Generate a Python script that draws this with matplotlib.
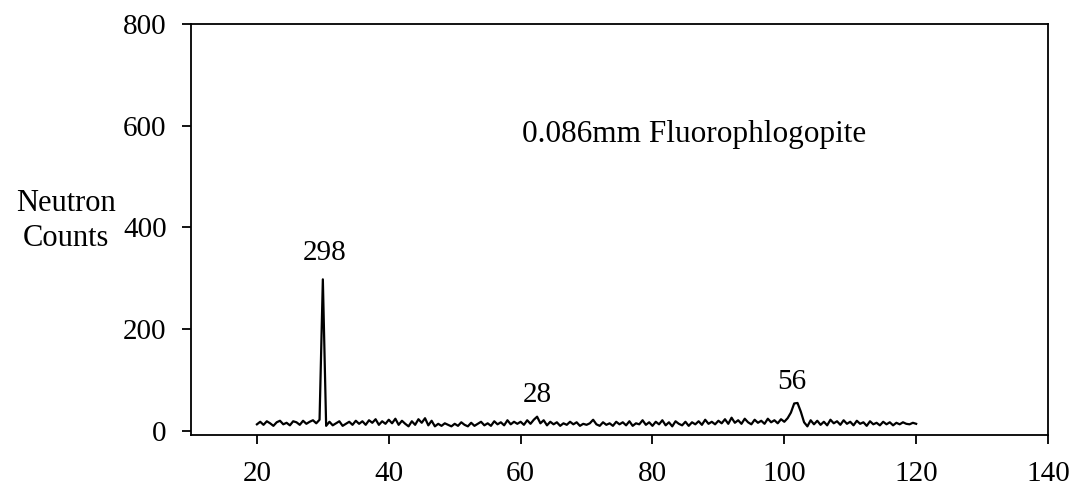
import numpy as np
import matplotlib
matplotlib.use("Agg")
import matplotlib.pyplot as plt

plt.rcParams['font.family'] = ['Liberation Serif', 'DejaVu Serif']

# Scattering angle grid (degrees), 0.5 step from 20 to 120
angle = np.arange(20, 120.01, 0.5)

counts_20_30 = [13, 18, 12, 19, 15, 10, 17, 20, 13, 16, 11, 19, 17, 12, 20, 14, 18, 21, 15, 22]
counts_30_40 = [298, 10, 18, 11, 15, 19, 10, 14, 18, 12, 20, 14, 19, 12, 21, 16, 23, 12, 19, 14]
counts_40_50 = [22, 15, 24, 12, 20, 14, 9, 19, 12, 23, 16, 25, 11, 20, 9, 14, 10, 15, 12, 9]
counts_50_60 = [14, 10, 17, 12, 9, 16, 10, 14, 18, 11, 15, 10, 19, 13, 17, 11, 21, 13, 18, 14]
counts_60_70 = [18, 12, 21, 14, 22, 28, 15, 21, 11, 18, 13, 17, 10, 15, 12, 18, 13, 17, 10, 14]
counts_70_80 = [12, 15, 22, 13, 10, 17, 12, 15, 10, 18, 13, 17, 11, 19, 10, 15, 13, 21, 12, 17]
counts_80_90 = [10, 18, 13, 21, 11, 17, 9, 19, 14, 11, 18, 10, 17, 13, 19, 12, 22, 14, 18, 13]
counts_90_100 = [20, 15, 23, 14, 26, 16, 21, 14, 24, 17, 13, 22, 16, 20, 14, 24, 17, 21, 15, 23]
counts_100_110 = [18, 25, 36, 54, 55, 38, 17, 9, 21, 13, 20, 12, 18, 11, 22, 15, 19, 12, 21, 14]
counts_110_120 = [18, 11, 20, 14, 17, 10, 19, 13, 16, 11, 18, 13, 17, 11, 16, 13, 17, 14, 13, 16, 14]

counts = (counts_20_30 + counts_30_40 + counts_40_50 + counts_50_60 + counts_60_70
          + counts_70_80 + counts_80_90 + counts_90_100 + counts_100_110 + counts_110_120)

peak_labels = ["298", "28", "56"]
peak_label_x = [30.3, 62.5, 101.2]
peak_label_y = [350, 71, 96]

x_ticks = [20, 40, 60, 80, 100, 120, 140]
y_ticks = [0, 200, 400, 600, 800]

FS = 21

fig = plt.figure(figsize=(10.8, 4.94), dpi=100)
ax = fig.add_axes([191/1080, 1 - 435/494, (1048 - 191)/1080, (435 - 24)/494])

ax.plot(angle, counts, color='black', linewidth=1.6)

ax.set_xlim(10, 140)
ax.set_ylim(-8, 800)
ax.set_xticks(x_ticks)
ax.set_yticks(y_ticks)
ax.tick_params(axis='both', direction='out', length=6.5, width=1.3, labelsize=FS, colors='black')
ax.tick_params(axis='x', pad=12)
ax.tick_params(axis='y', pad=11)
for s in ax.spines.values():
    s.set_linewidth(1.3)

for lab, lx, ly in zip(peak_labels, peak_label_x, peak_label_y):
    ax.text(lx, ly, lab, ha='center', va='center', fontsize=FS)

ax.text(60.2, 583, "0.086mm Fluorophlogopite", ha='left', va='center', fontsize=22.5)

fig.text(66/1080, 1 - 221/494, "Neutron\nCounts", ha='center', va='center',
         multialignment='center', fontsize=22, linespacing=1.3)

fig.savefig("out.png", dpi=100)
